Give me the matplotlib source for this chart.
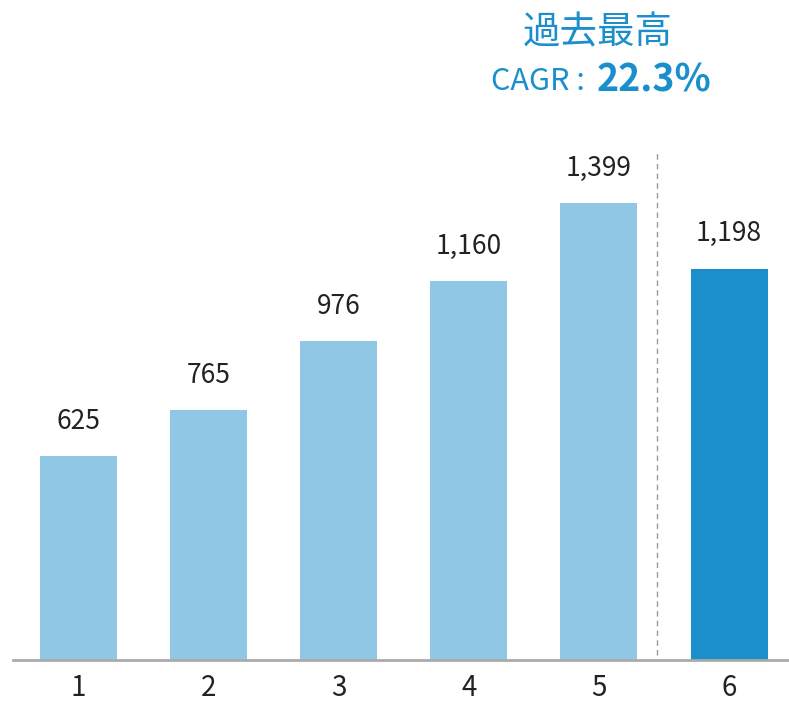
import matplotlib.pyplot as plt
import numpy as np

plt.rcParams['font.family'] = ['Noto Sans CJK JP', 'DejaVu Sans']

# data
categories = ['1', '2', '3', '4', '5', '6']
values = [625, 765, 976, 1160, 1399, 1198]
labels = ['625', '765', '976', '1,160', '1,399', '1,198']
bar_colors = ['#8fc7e5'] * 5 + ['#1a8fcc']

fig = plt.figure(figsize=(7.89, 7.02), dpi=100)
ax = fig.add_axes([13 / 789, 1 - 660 / 702, 1 - 13 / 789, 660 / 702])

x = np.arange(len(categories))
ax.bar(x, values, width=0.59, color=bar_colors, zorder=2)

for xi, v, lab in zip(x, values, labels):
    ax.annotate(lab, (xi, v), xytext=(0, 25), textcoords='offset points',
                ha='center', va='center', fontsize=19, color='#222222')

# dashed separator before the last bar
ax.plot([4.45, 4.45], [15, 1555], linestyle=(0, (4, 3)), color='#999999', lw=1)

ax.set_xlim(-0.5, 5.46)
ax.set_ylim(0, 2020)
ax.set_xticks(x)
ax.set_xticklabels(categories, fontsize=20, color='#222222')
ax.tick_params(axis='x', length=0, pad=9)
ax.set_yticks([])
for s in ['top', 'right', 'left']:
    ax.spines[s].set_visible(False)
ax.spines['bottom'].set_color('#aaaaaa')
ax.spines['bottom'].set_linewidth(2)

# headline
fig.text(598 / 789, 1 - 33 / 702, '過去最高', ha='center', va='center',
         fontsize=27, color='#1a8fcc')
fig.text(592 / 789, 1 - 82 / 702, 'CAGR : ', ha='right', va='center',
         fontsize=22, color='#1a8fcc')
fig.text(597 / 789, 1 - 80 / 702, '22.3%', ha='left', va='center',
         fontsize=27, fontweight='bold', color='#1a8fcc')

fig.savefig('out.png', dpi=100)
